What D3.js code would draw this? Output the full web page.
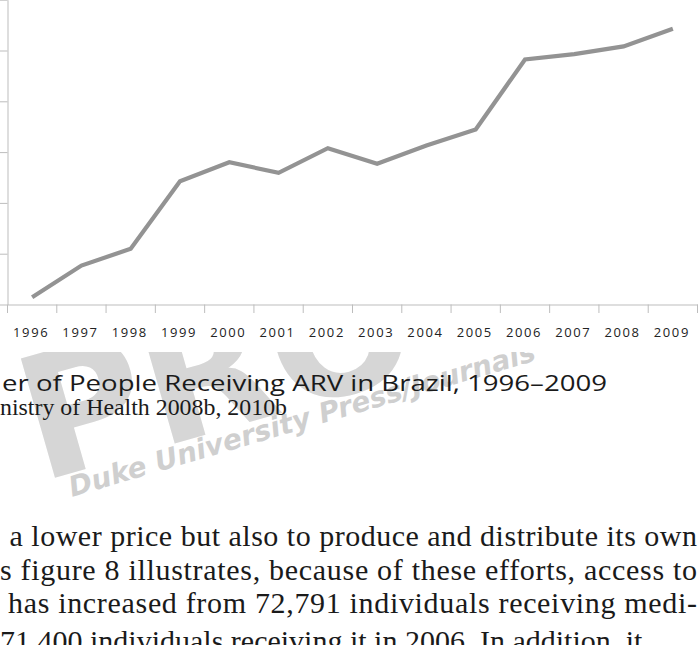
<!DOCTYPE html>
<html><head><meta charset="utf-8">
<script src="https://cdn.jsdelivr.net/npm/d3@7"></script>
<style>html,body{margin:0;padding:0;background:#fff;overflow:hidden}</style>
</head><body>
<svg id="c" width="698" height="645"></svg>
<script>
// Data
const years = ["1996","1997","1998","1999","2000","2001","2002","2003","2004","2005","2006","2007","2008","2009"];
const people = [4300, 23000, 32900, 72791, 84000, 77800, 92300, 83100, 93900, 103400, 144700, 147900, 152400, 162800];
const yTicks = [0, 30000, 60000, 90000, 120000, 150000, 180000];
const captionText = "er of People Receiving ARV in Brazil, 1996–2009";
const sourceText = "nistry of Health 2008b, 2010b";
const bodyLines = [
  "a lower price but also to produce and distribute its own",
  "s figure 8 illustrates, because of these efforts, access to",
  "has increased from 72,791 individuals receiving medi-",
  "71,400 individuals receiving it in 2006. In addition, it"
];

const svg = d3.select("#c");
const x = d3.scaleBand().domain(years).range([7.5, 697.5]);
const y = d3.scaleLinear().domain([0, 180000]).range([304.5, -0.3]);

// watermark (under the chart image area, which is opaque)
const defs = svg.append("defs");
defs.append("clipPath").attr("id","wm").append("rect").attr("x",0).attr("y",352).attr("width",698).attr("height",300);
const wm = svg.append("g").attr("clip-path","url(#wm)");
wm.append("text").attr("transform","translate(40,482) rotate(-16)")
  .attr("font-family","DejaVu Sans").attr("font-weight","bold").attr("font-size",170)
  .attr("fill","#d6d6d6").text("PRO");
wm.append("text").attr("transform","translate(72,497) rotate(-16.4)")
  .attr("font-family","DejaVu Sans").attr("font-weight","bold").attr("font-style","italic")
  .attr("font-size",28).attr("fill","#cfcfcf").text("Duke University Press/Journals");

// chart
const g = svg.append("g");
// y axis
const yAxis = d3.axisLeft(y).tickValues(yTicks).tickSize(7.5).tickSizeOuter(0).tickFormat("");
const ya = g.append("g").attr("transform","translate(7.5,0)").call(yAxis);
ya.selectAll("path,line").attr("stroke","#bdbdbd").attr("stroke-width",1);
// x axis labels
const xAxis = d3.axisBottom(x).tickSize(0).tickSizeOuter(0);
const xa = g.append("g").attr("transform","translate(0,304.5)").call(xAxis);
xa.select("path").attr("stroke","#bdbdbd");
xa.selectAll("text").attr("y",32.5).attr("dy",0).attr("dx",-1)
  .attr("font-family","Open Sans").attr("font-size",13).attr("letter-spacing","1.6px").attr("fill","#222");
// x ticks at band edges
const edges = years.map(d => x(d)).concat([x(years[years.length-1]) + x.bandwidth()]);
g.selectAll(".xt").data(edges).join("line").attr("class","xt")
  .attr("x1",d=>d).attr("x2",d=>d).attr("y1",304.5).attr("y2",313)
  .attr("stroke","#bdbdbd").attr("stroke-width",1);

// line
const line = d3.line().x((d,i)=>x(years[i]) + x.bandwidth()/2).y(d=>y(d));
g.append("path").datum(people).attr("d",line).attr("fill","none")
  .attr("stroke","#939393").attr("stroke-width",4.2).attr("stroke-linejoin","miter");

// caption
svg.append("text").attr("x",2).attr("y",391).attr("font-family","Open Sans").attr("font-size",21)
  .attr("fill","#1a1a1a").attr("textLength",605).attr("lengthAdjust","spacingAndGlyphs").text(captionText);
svg.append("text").attr("x",0).attr("y",415).attr("font-family","Liberation Serif").attr("font-size",23)
  .attr("fill","#1a1a1a").attr("textLength",287).attr("lengthAdjust","spacingAndGlyphs").text(sourceText);

// body text
const bodyX = [9.5, 0, 8, 0];
const bodyW = [687.5, 697, 689, null];
const bodyY = [546, 579.5, 613, 651];
bodyLines.forEach((t,i)=>{
  const tx = svg.append("text").attr("x",bodyX[i]).attr("y",bodyY[i])
    .attr("font-family","Liberation Serif").attr("font-size",30).attr("fill","#1a1a1a").text(t);
  if (bodyW[i]) tx.attr("textLength",bodyW[i]).attr("lengthAdjust","spacing");
});
</script>
</body></html>
